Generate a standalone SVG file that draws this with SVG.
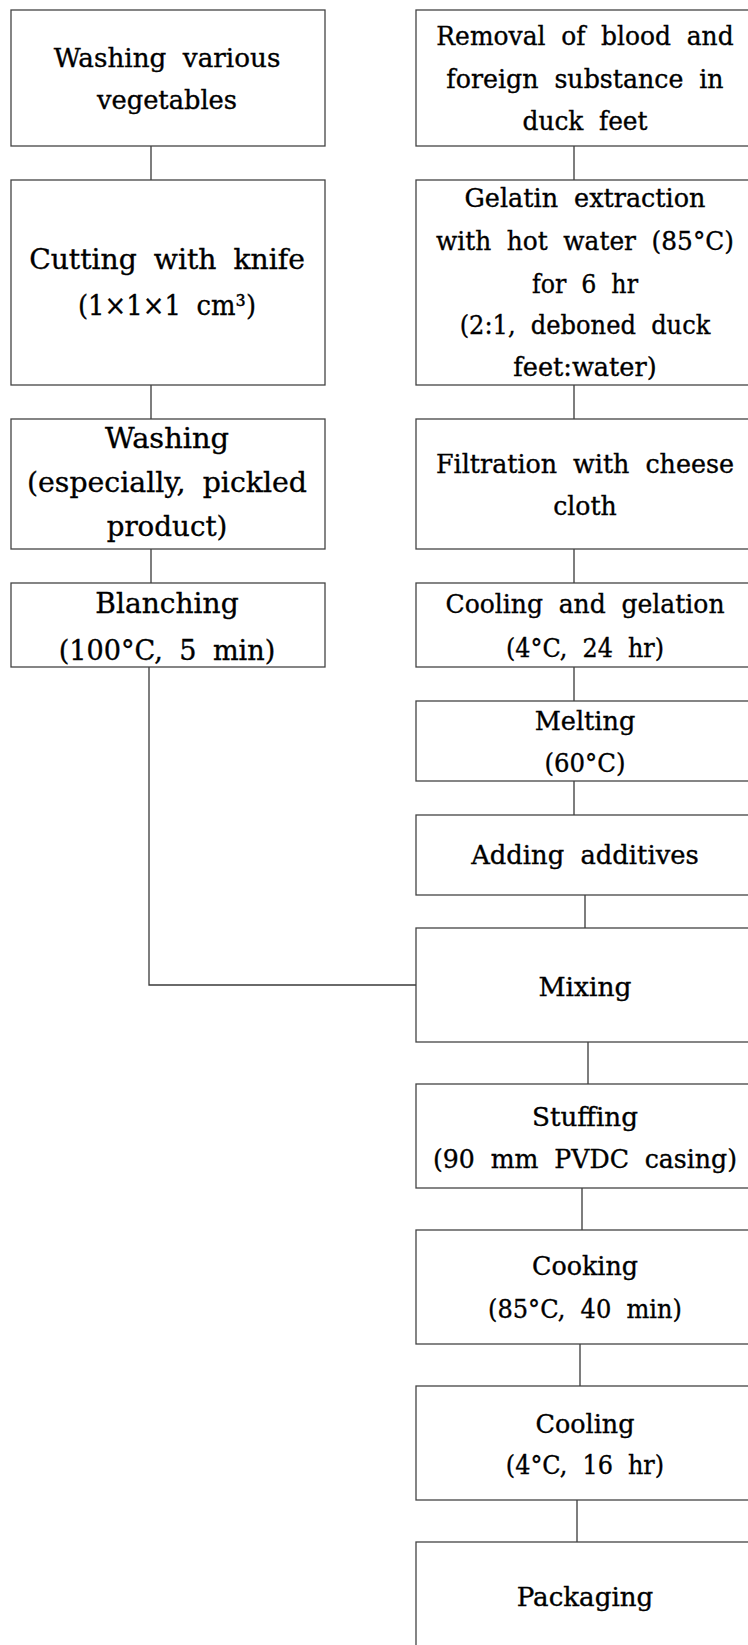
<svg xmlns="http://www.w3.org/2000/svg" width="748" height="1645" viewBox="0 0 748 1645">
<style>
.box{fill:#fff;stroke:#444;stroke-width:1.3}
.con{fill:none;stroke:#3a3a3a;stroke-width:1.3}
text{font-family:"DejaVu Serif","Liberation Serif",serif;font-size:25.7px;fill:#000;stroke:#000;stroke-width:0.35;text-anchor:middle;word-spacing:8px}
.big{font-size:28px}
</style>
<rect width="748" height="1645" fill="#fff"/>
<g id="connectors">
<path class="con" d="M151 146V180M151 385V419M151 549V583M149 667V985H416"/>
<path class="con" d="M574 146V180M574 385V419M574 549V583M574 667V701M574 781V815M585 895V928M588 1042V1084M582 1188V1230M580 1344V1386M577 1500V1542"/>
</g>
<g id="n-wash-veg"><rect class="box" x="11" y="10" width="314" height="136"/>
<text x="167" y="66.7" textLength="226.7" lengthAdjust="spacingAndGlyphs">Washing various</text>
<text x="167" y="108.5" textLength="140" lengthAdjust="spacingAndGlyphs">vegetables</text></g>
<g id="n-cutting"><rect class="box" x="11" y="180" width="314" height="205"/>
<text class="big" x="167" y="269" textLength="275.7" lengthAdjust="spacingAndGlyphs">Cutting with knife</text>
<text class="big" x="167" y="315" textLength="178" lengthAdjust="spacingAndGlyphs">(1×1×1 cm³)</text></g>
<g id="n-washing"><rect class="box" x="11" y="419" width="314" height="130"/>
<text class="big" x="167" y="448" textLength="124" lengthAdjust="spacingAndGlyphs">Washing</text>
<text class="big" x="167" y="492" textLength="280" lengthAdjust="spacingAndGlyphs">(especially, pickled</text>
<text class="big" x="167" y="536" textLength="120.7" lengthAdjust="spacingAndGlyphs">product)</text></g>
<g id="n-blanching"><rect class="box" x="11" y="583" width="314" height="84"/>
<text class="big" x="167" y="613" textLength="143.3" lengthAdjust="spacingAndGlyphs">Blanching</text>
<text class="big" x="167" y="660" textLength="216.7" lengthAdjust="spacingAndGlyphs">(100°C, 5 min)</text></g>
<g id="n-removal"><rect class="box" x="416" y="10" width="340" height="136"/>
<text x="585" y="45" textLength="297.3" lengthAdjust="spacingAndGlyphs">Removal of blood and</text>
<text x="585" y="88" textLength="277.3" lengthAdjust="spacingAndGlyphs">foreign substance in</text>
<text x="585" y="129.5" textLength="125" lengthAdjust="spacingAndGlyphs">duck feet</text></g>
<g id="n-gelatin"><rect class="box" x="416" y="180" width="340" height="205"/>
<text x="585" y="207" textLength="241" lengthAdjust="spacingAndGlyphs">Gelatin extraction</text>
<text x="585" y="249.5" textLength="298" lengthAdjust="spacingAndGlyphs">with hot water (85°C)</text>
<text x="585" y="292.5" textLength="106" lengthAdjust="spacingAndGlyphs">for 6 hr</text>
<text x="585" y="334" textLength="250.7" lengthAdjust="spacingAndGlyphs">(2:1, deboned duck</text>
<text x="585" y="376" textLength="143.3" lengthAdjust="spacingAndGlyphs">feet:water)</text></g>
<g id="n-filtration"><rect class="box" x="416" y="419" width="340" height="130"/>
<text x="585" y="473" textLength="298" lengthAdjust="spacingAndGlyphs">Filtration with cheese</text>
<text x="585" y="515" textLength="63.7" lengthAdjust="spacingAndGlyphs">cloth</text></g>
<g id="n-gelation"><rect class="box" x="416" y="583" width="340" height="84"/>
<text x="585" y="613.3" textLength="279" lengthAdjust="spacingAndGlyphs">Cooling and gelation</text>
<text x="585" y="656.7" textLength="158" lengthAdjust="spacingAndGlyphs">(4°C, 24 hr)</text></g>
<g id="n-melting"><rect class="box" x="416" y="701" width="340" height="80"/>
<text x="585" y="730" textLength="100.7" lengthAdjust="spacingAndGlyphs">Melting</text>
<text x="585" y="771.7" textLength="81" lengthAdjust="spacingAndGlyphs">(60°C)</text></g>
<g id="n-additives"><rect class="box" x="416" y="815" width="340" height="80"/>
<text x="585" y="864.3" textLength="227.6" lengthAdjust="spacingAndGlyphs">Adding additives</text></g>
<g id="n-mixing"><rect class="box" x="416" y="928" width="340" height="114"/>
<text x="585" y="996" textLength="93" lengthAdjust="spacingAndGlyphs">Mixing</text></g>
<g id="n-stuffing"><rect class="box" x="416" y="1084" width="340" height="104"/>
<text x="585" y="1126" textLength="106" lengthAdjust="spacingAndGlyphs">Stuffing</text>
<text x="585" y="1168.3" textLength="304" lengthAdjust="spacingAndGlyphs">(90 mm PVDC casing)</text></g>
<g id="n-cooking"><rect class="box" x="416" y="1230" width="340" height="114"/>
<text x="585" y="1275" textLength="106" lengthAdjust="spacingAndGlyphs">Cooking</text>
<text x="585" y="1318" textLength="194" lengthAdjust="spacingAndGlyphs">(85°C, 40 min)</text></g>
<g id="n-cooling"><rect class="box" x="416" y="1386" width="340" height="114"/>
<text x="585" y="1432.7" textLength="99" lengthAdjust="spacingAndGlyphs">Cooling</text>
<text x="585" y="1474" textLength="158.3" lengthAdjust="spacingAndGlyphs">(4°C, 16 hr)</text></g>
<g id="n-packaging"><rect class="box" x="416" y="1542" width="340" height="120"/>
<text x="585" y="1605.7" textLength="136.7" lengthAdjust="spacingAndGlyphs">Packaging</text></g>
</svg>
